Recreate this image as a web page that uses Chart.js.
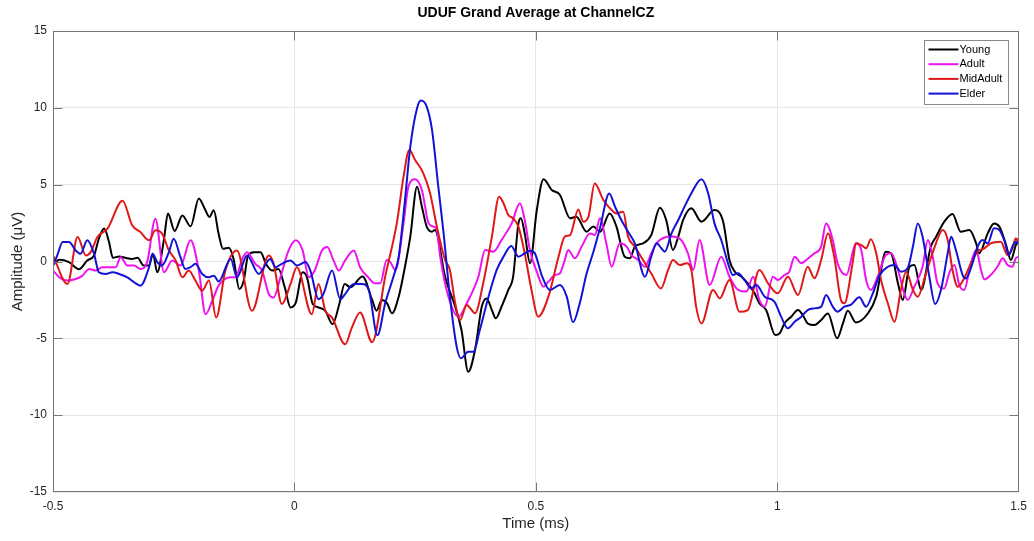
<!DOCTYPE html>
<html>
<head>
<meta charset="utf-8">
<title>UDUF Grand Average at ChannelCZ</title>
<script src="https://cdn.jsdelivr.net/npm/chart.js@4.4.0/dist/chart.umd.min.js"></script>
<style>
  html, body { margin: 0; padding: 0; background: #fff; }
</style>
</head>
<body>
<canvas id="erp" width="1034" height="541"></canvas>
<script>
// Grand average ERP at CZ, one trace per age group
const chartTitle = 'UDUF Grand Average at ChannelCZ';
const seriesNames = ['Young', 'Adult', 'MidAdult', 'Elder'];
const seriesColors = ['#000000', '#ee12ee', '#e01818', '#1212d6'];
const xTicks = [-0.5, 0, 0.5, 1, 1.5];
const yTicks = [-15, -10, -5, 0, 5, 10, 15];

const youngTime = [
  -0.5, -0.487, -0.467, -0.446, -0.429, -0.415, -0.405, -0.394, -0.384, -0.376,
  -0.363, -0.35, -0.336, -0.325, -0.312, -0.301, -0.293, -0.284, -0.27, -0.262,
  -0.248, -0.232, -0.215, -0.198, -0.186, -0.176, -0.167, -0.157, -0.148, -0.136,
  -0.126, -0.114, -0.105, -0.096, -0.084, -0.07, -0.059, -0.046, -0.033, -0.02,
  -0.008, 0.003, 0.017, 0.026, 0.038, 0.05, 0.064, 0.079, 0.093, 0.104,
  0.116, 0.141, 0.161, 0.17, 0.181, 0.192, 0.202, 0.216, 0.229, 0.24,
  0.254, 0.264, 0.274, 0.285, 0.291, 0.312, 0.333, 0.346, 0.36, 0.374,
  0.388, 0.398, 0.409, 0.417, 0.429, 0.443, 0.453, 0.464, 0.469, 0.477,
  0.488, 0.502, 0.516, 0.533, 0.55, 0.571, 0.584, 0.605, 0.619, 0.633,
  0.653, 0.667, 0.684, 0.695, 0.705, 0.722, 0.739, 0.757, 0.77, 0.784,
  0.795, 0.805, 0.822, 0.843, 0.87, 0.888, 0.901, 0.912, 0.926, 0.939,
  0.953, 0.963, 0.977, 0.996, 1.005, 1.015, 1.029, 1.043, 1.053, 1.063,
  1.077, 1.091, 1.105, 1.124, 1.136, 1.146, 1.163, 1.188, 1.205, 1.225,
  1.236, 1.25, 1.26, 1.274, 1.284, 1.298, 1.318, 1.329, 1.346, 1.363,
  1.38, 1.398, 1.412, 1.418, 1.436, 1.449, 1.46, 1.473, 1.484, 1.494,
  1.5
];
const youngAmp = [
  -0.2, 0.11, -0.04, -0.5, 0.07, 0.39, 1.48, 2.14, 1.27, 0.24,
  0.33, 0.24, 0.17, 0.24, -0.26, -0.26, 0.5, -0.7, 1.48, 3.12,
  1.99, 3.0, 2.29, 4.1, 3.45, 2.9, 3.34, 1.8, 0.83, 0.9,
  0.17, -1.79, -1.24, 0.39, 0.61, 0.61, -0.15, -0.59, -0.48, -1.68,
  -2.99, -2.66, -0.7, -1.03, -2.77, -2.99, -3.21, -4.08, -2.77, -1.46,
  -1.68, -0.98, -2.5, -3.2, -2.51, -2.72, -3.37, -2.29, -0.34, 1.62,
  4.87, 3.57, 2.27, 1.94, 2.05, -0.99, -2.94, -4.46, -7.17, -5.76,
  -2.94, -2.4, -3.16, -3.7, -2.94, -1.85, -0.99, 2.48, 2.81, 1.83,
  -0.12, 3.35, 5.35, 4.65, 4.33, 2.81, 2.92, 1.94, 2.27, 1.94,
  3.13, 2.27, 0.31, 0.21, 0.97, 1.18, 1.72, 3.5, 2.7, 0.75,
  1.62, 2.7, 3.46, 2.59, 3.35, 2.59, 0.1, -0.66, -0.99, -1.42,
  -2.07, -2.72, -3.16, -4.79, -4.68, -4.03, -3.59, -3.16, -3.49, -4.03,
  -4.14, -3.81, -3.38, -5.0, -4.03, -3.2, -3.97, -3.37, -2.28, 0.64,
  0.53, -1.42, -2.5, -0.34, -0.23, -1.85, 0.96, 1.61, 2.59, 3.09,
  1.94, 2.05, 1.18, 0.53, 1.83, 2.48, 2.27, 1.18, 0.1, 1.07,
  1.5
];

const adultTime = [
  -0.5, -0.487, -0.47, -0.453, -0.439, -0.425, -0.412, -0.398, -0.37, -0.36,
  -0.346, -0.332, -0.319, -0.305, -0.288, -0.27, -0.253, -0.236, -0.215, -0.198,
  -0.184, -0.17, -0.157, -0.132, -0.122, -0.108, -0.098, -0.081, -0.067, -0.053,
  -0.043, -0.029, -0.012, 0.003, 0.017, 0.03, 0.042, 0.057, 0.068, 0.081,
  0.092, 0.105, 0.123, 0.136, 0.153, 0.167, 0.178, 0.191, 0.198, 0.209,
  0.226, 0.236, 0.25, 0.264, 0.278, 0.288, 0.295, 0.302, 0.319, 0.34,
  0.357, 0.381, 0.395, 0.412, 0.429, 0.45, 0.467, 0.477, 0.488, 0.502,
  0.516, 0.526, 0.54, 0.55, 0.56, 0.567, 0.581, 0.595, 0.612, 0.622,
  0.633, 0.646, 0.657, 0.674, 0.688, 0.698, 0.712, 0.726, 0.739, 0.753,
  0.781, 0.801, 0.815, 0.826, 0.839, 0.86, 0.884, 0.901, 0.919, 0.936,
  0.95, 0.963, 0.974, 0.991, 1.001, 1.015, 1.025, 1.036, 1.05, 1.06,
  1.077, 1.091, 1.101, 1.115, 1.125, 1.143, 1.163, 1.174, 1.184, 1.194,
  1.208, 1.225, 1.236, 1.25, 1.263, 1.27, 1.284, 1.301, 1.312, 1.322,
  1.332, 1.346, 1.356, 1.367, 1.377, 1.387, 1.401, 1.412, 1.422, 1.429,
  1.442, 1.456, 1.467, 1.477, 1.487, 1.494, 1.5
];
const adultAmp = [
  -0.59, -1.03, -1.24, -1.14, -0.92, -0.48, -0.59, -0.37, -0.37, 0.28,
  -0.26, -0.26, -0.48, -0.04, 2.79, -0.7, 0.07, -0.26, 1.38, -0.59,
  -3.43, -2.55, -1.57, -1.03, -1.03, 0.17, 0.61, -0.15, -0.59, -2.12,
  -2.34, -1.03, 0.72, 1.38, 0.72, -1.03, -0.59, 0.72, 0.94, 0.07,
  -0.59, 0.07, 0.72, -0.37, -1.03, -1.42, -1.42, 0.1, -0.01, -0.55,
  2.48, 4.87, 5.35, 4.65, 2.48, 2.27, 2.05, 0.31, -2.29, -3.59,
  -2.72, -0.99, 0.75, 0.64, 1.4, 2.48, 3.79, 2.7, 0.7, -0.66,
  -1.64, -1.31, -0.88, -0.77, 0.1, 0.75, 0.21, 0.97, 1.83, 1.72,
  2.81, 1.18, -0.34, 1.18, 0.97, 0.42, 0.1, -0.34, 0.53, 1.29,
  1.62, 1.4, 0.53, -0.55, 1.4, -1.53, 0.31, -0.99, -1.85, -1.96,
  -0.99, -2.51, -2.94, -0.99, -1.2, -0.88, -0.66, 0.31, -0.12, 0.1,
  0.53, 0.97, 2.48, 1.4, -0.12, -0.88, 1.18, 0.75, -1.2, -1.85,
  -0.99, 0.42, 0.53, -0.55, -2.07, -2.5, -1.64, -0.34, 1.4, 0.31,
  -1.42, -1.75, -0.77, -0.23, -1.53, -1.85, -0.12, 0.75, -0.55, -1.16,
  -0.88, -0.34, 0.21, -0.23, -0.34, 0.21, 0.3
];

const midAdultTime = [
  -0.5, -0.47, -0.449, -0.432, -0.422, -0.408, -0.387, -0.356, -0.336, -0.319,
  -0.301, -0.288, -0.274, -0.26, -0.246, -0.232, -0.219, -0.205, -0.191, -0.177,
  -0.162, -0.143, -0.119, -0.088, -0.053, -0.043, -0.026, -0.008, 0.005, 0.036,
  0.05, 0.064, 0.078, 0.105, 0.119, 0.136, 0.161, 0.188, 0.212, 0.226,
  0.238, 0.25, 0.267, 0.281, 0.295, 0.312, 0.322, 0.333, 0.343, 0.357,
  0.367, 0.374, 0.391, 0.409, 0.424, 0.433, 0.443, 0.453, 0.464, 0.477,
  0.491, 0.505, 0.526, 0.547, 0.56, 0.571, 0.588, 0.598, 0.609, 0.622,
  0.64, 0.657, 0.667, 0.681, 0.691, 0.705, 0.722, 0.739, 0.759, 0.774,
  0.784, 0.798, 0.812, 0.822, 0.832, 0.843, 0.867, 0.881, 0.901, 0.922,
  0.939, 0.963, 0.981, 1.001, 1.022, 1.043, 1.063, 1.077, 1.091, 1.105,
  1.118, 1.132, 1.139, 1.156, 1.163, 1.174, 1.184, 1.194, 1.205, 1.215,
  1.229, 1.243, 1.256, 1.267, 1.281, 1.291, 1.308, 1.325, 1.343, 1.353,
  1.363, 1.374, 1.387, 1.401, 1.415, 1.429, 1.442, 1.463, 1.477, 1.487,
  1.494, 1.5
];
const midAdultAmp = [
  0.4, -1.46, 1.59, 0.39, 0.61, 1.59, 2.14, 3.95, 2.36, 1.92,
  1.38, 2.03, 1.81, 0.72, 0.07, -1.03, -0.59, -1.24, -1.9, -1.24,
  -3.65, -0.59, 0.72, -3.21, 0.39, -0.15, -2.77, -1.46, -0.37, -3.43,
  -1.46, -3.21, -3.65, -5.39, -4.3, -3.32, -5.25, -0.99, 2.48, 5.52,
  7.26, 6.61, 5.74, 4.44, 2.27, 0.1, -0.55, -2.72, -3.81, -2.83,
  -3.16, -3.37, -1.42, 1.62, 4.22, 3.79, 3.03, 2.81, 2.27, 0.53,
  -1.85, -3.59, -2.29, 0.31, 1.62, 1.72, 3.39, 2.59, 2.92, 5.08,
  4.0, 3.35, 3.13, 3.24, 1.62, 0.97, 0.1, -0.77, -1.75, -0.55,
  0.1, -0.23, -0.12, -0.55, -2.94, -4.03, -1.85, -2.4, -1.2, -3.27,
  -3.16, -0.55, -1.42, -2.07, -0.99, -2.18, -0.34, -1.09, 0.1, 1.83,
  0.31, -2.51, -2.72, -0.12, 1.18, 1.07, 0.86, 1.44, 0.53, -1.2,
  -2.72, -3.92, -1.85, -0.66, -1.85, -2.29, -0.77, 0.86, 2.05, 1.4,
  -0.55, -1.64, -1.1, -0.12, 0.64, 0.86, 1.18, 1.29, 0.42, 0.86,
  1.51, 1.2
];

const elderTime = [
  -0.5, -0.49, -0.48, -0.467, -0.453, -0.443, -0.429, -0.415, -0.405, -0.391,
  -0.377, -0.363, -0.346, -0.332, -0.319, -0.301, -0.294, -0.284, -0.274, -0.26,
  -0.25, -0.236, -0.226, -0.215, -0.205, -0.191, -0.177, -0.167, -0.157, -0.132,
  -0.119, -0.098, -0.074, -0.05, -0.039, -0.026, -0.008, 0.005, 0.023, 0.033,
  0.05, 0.06, 0.078, 0.095, 0.105, 0.123, 0.14, 0.154, 0.172, 0.188,
  0.205, 0.216, 0.229, 0.24, 0.254, 0.262, 0.274, 0.285, 0.298, 0.309,
  0.322, 0.336, 0.345, 0.36, 0.371, 0.384, 0.402, 0.419, 0.433, 0.449,
  0.464, 0.477, 0.488, 0.498, 0.512, 0.529, 0.55, 0.564, 0.577, 0.591,
  0.605, 0.619, 0.633, 0.652, 0.664, 0.677, 0.691, 0.705, 0.726,
  0.739, 0.75, 0.76, 0.767, 0.781, 0.795, 0.808, 0.822, 0.843, 0.857,
  0.87, 0.884, 0.898, 0.908, 0.919, 0.932, 0.946, 0.957, 0.974, 0.994,
  1.008, 1.022, 1.036, 1.05, 1.063, 1.077, 1.091, 1.101, 1.115, 1.125,
  1.139, 1.153, 1.17, 1.184, 1.198, 1.212, 1.229, 1.243, 1.256, 1.27,
  1.281, 1.291, 1.301, 1.315, 1.327, 1.339, 1.353, 1.36, 1.37, 1.384,
  1.391, 1.401, 1.415, 1.425, 1.436, 1.449, 1.46, 1.47, 1.48, 1.487,
  1.494, 1.5
];
const elderAmp = [
  -0.3, 0.5, 1.27, 1.27, 0.72, 0.5, 1.38, 0.5, -0.7, -0.81,
  -0.7, -0.81, -1.03, -1.35, -1.57, -0.37, 0.5, -0.04, -0.26, 0.61,
  1.48, 0.28, -0.48, -0.37, -0.15, -0.81, -1.03, -0.92, -1.3, 0.17,
  -1.03, 0.39, -0.81, 0.17, -0.37, -0.15, 0.07, -0.26, -0.04, -0.59,
  -2.45, -2.12, -0.59, -2.45, -2.12, -1.46, -1.46, -1.85, -4.8, -2.72,
  -0.99, 0.31, 4.0, 7.47, 9.97, 10.47, 10.08, 8.56, 4.87, 1.83,
  -2.29, -5.54, -6.3, -5.87, -5.87, -4.46, -2.29, -0.55, 0.31, 1.01,
  0.31, 0.53, 0.7, 0.53, -0.88, -1.85, -1.53, -2.29, -3.96, -2.72,
  -0.8, 0.6, 2.2, 4.43, 3.57, 2.7, 1.94, 1.18, -0.99,
  0.31, 1.18, 0.86, 0.64, 1.83, 2.7, 3.57, 4.43, 5.35, 4.43,
  2.48, 1.4, -0.12, -0.88, -0.77, -1.2, -1.75, -1.53, -2.29, -2.61,
  -3.59, -4.35, -3.92, -3.59, -3.16, -3.05, -2.94, -2.18, -2.94, -3.27,
  -2.94, -2.8, -2.33, -2.94, -2.07, -0.88, -0.34, -0.23, -0.66, -0.44,
  0.97, 2.48, 1.61, -0.99, -2.77, -1.86, 0.53, 1.61, 0.75, -0.88,
  -1.1, -0.44, 0.97, 1.4, 1.18, 2.16, 2.05, 1.4, 0.42, 0.97,
  1.29, 1.1
];

const FONT = '"Liberation Sans", Arial, Helvetica, sans-serif';

function toPoints(times, amps) {
  if (times.length !== amps.length) {
    console.warn('length mismatch', times.length, amps.length);
  }
  return times.map((t, i) => ({ x: t, y: amps[i] }));
}

const traces = [
  toPoints(youngTime, youngAmp),
  toPoints(adultTime, adultAmp),
  toPoints(midAdultTime, midAdultAmp),
  toPoints(elderTime, elderAmp)
];

// later groups are plotted over earlier ones
const datasets = seriesNames.map((name, i) => ({
  label: name,
  data: traces[i],
  borderColor: seriesColors[i],
  borderWidth: 2,
  pointRadius: 0,
  fill: false,
  cubicInterpolationMode: 'monotone',
  order: seriesNames.length - i
}));

const clamp = (v, lo, hi) => Math.min(hi, Math.max(lo, v));

// title over the plot area, box around the axes, inward ticks, legend
const matlabAxes = {
  id: 'matlabAxes',
  afterDatasetsDraw(chart) {
    const { ctx, chartArea: area, scales } = chart;
    const tickLen = 9;
    const left = Math.round(area.left) + 0.5;
    const right = Math.round(area.right) - 0.5;
    const top = Math.round(area.top) + 0.5;
    const bottom = Math.round(area.bottom) - 0.5;

    ctx.save();
    ctx.fillStyle = '#000000';
    ctx.font = 'bold 14px ' + FONT;
    ctx.textAlign = 'center';
    ctx.textBaseline = 'middle';
    ctx.fillText(chartTitle, (area.left + area.right) / 2, 13);

    ctx.strokeStyle = '#777777';
    ctx.lineWidth = 1;
    ctx.beginPath();
    xTicks.forEach(v => {
      const px = clamp(Math.round(scales.x.getPixelForValue(v)) + 0.5, left, right);
      ctx.moveTo(px, bottom); ctx.lineTo(px, bottom - tickLen);
      ctx.moveTo(px, top); ctx.lineTo(px, top + tickLen);
    });
    yTicks.forEach(v => {
      const py = clamp(Math.round(scales.y.getPixelForValue(v)) + 0.5, top, bottom);
      ctx.moveTo(left, py); ctx.lineTo(left + tickLen, py);
      ctx.moveTo(right, py); ctx.lineTo(right - tickLen, py);
    });
    ctx.stroke();
    ctx.strokeRect(left, top, right - left, bottom - top);

    const boxW = 84, boxH = 64;
    const bx = right - 10 - boxW;
    const by = top + 9;
    ctx.fillStyle = '#ffffff';
    ctx.fillRect(bx, by, boxW, boxH);
    ctx.strokeStyle = '#8a8a8a';
    ctx.strokeRect(bx, by, boxW, boxH);
    ctx.font = '11px ' + FONT;
    ctx.textBaseline = 'middle';
    ctx.textAlign = 'left';
    seriesNames.forEach((name, i) => {
      const ry = by + 9 + i * 14.7;
      ctx.strokeStyle = seriesColors[i];
      ctx.lineWidth = 2;
      ctx.beginPath();
      ctx.moveTo(bx + 4, ry);
      ctx.lineTo(bx + 34, ry);
      ctx.stroke();
      ctx.fillStyle = '#000000';
      ctx.fillText(name, bx + 35, ry);
    });
    ctx.restore();
  }
};

new Chart(document.getElementById('erp'), {
  type: 'line',
  data: { datasets },
  options: {
    responsive: false,
    animation: false,
    devicePixelRatio: 1,
    layout: { padding: { left: 0, right: 14, top: 31, bottom: 0 } },
    plugins: {
      legend: { display: false },
      tooltip: { enabled: false },
      title: { display: false }
    },
    scales: {
      x: {
        type: 'linear',
        min: -0.5,
        max: 1.5,
        afterBuildTicks: scale => { scale.ticks = xTicks.map(v => ({ value: v })); },
        afterFit: scale => { scale.height = 49; },
        grid: { color: '#e6e6e6', drawTicks: false },
        border: { display: false },
        ticks: {
          color: '#262626',
          font: { family: FONT, size: 12 },
          padding: 7,
          maxRotation: 0,
          callback: v => String(v)
        },
        title: {
          display: true,
          text: 'Time (ms)',
          color: '#262626',
          font: { family: FONT, size: 15 },
          padding: { top: 0, bottom: 8 }
        }
      },
      y: {
        type: 'linear',
        min: -15,
        max: 15,
        afterBuildTicks: scale => { scale.ticks = yTicks.map(v => ({ value: v })); },
        afterFit: scale => { scale.width = 53; },
        grid: { color: '#e6e6e6', drawTicks: false },
        border: { display: false },
        ticks: {
          color: '#262626',
          font: { family: FONT, size: 12 },
          padding: 6,
          callback: v => String(v)
        },
        title: {
          display: true,
          text: 'Amplitude (μV)',
          color: '#262626',
          font: { family: FONT, size: 15 },
          padding: { top: 9, bottom: 0 }
        }
      }
    }
  },
  plugins: [matlabAxes]
});
</script>
</body>
</html>
